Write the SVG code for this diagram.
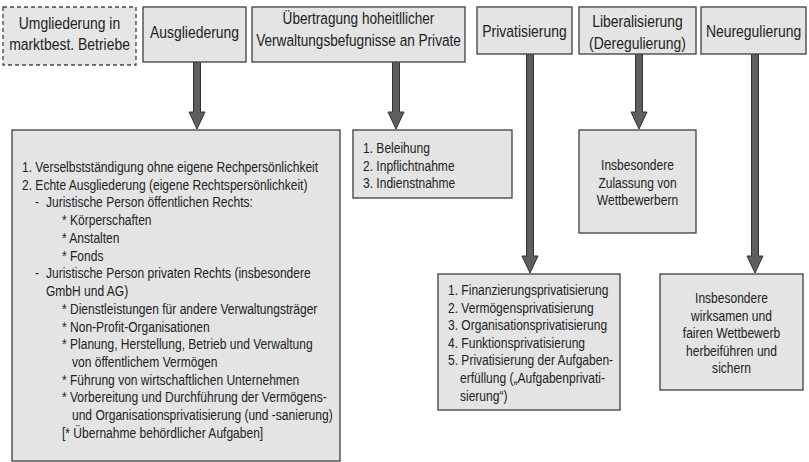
<svg xmlns="http://www.w3.org/2000/svg" width="809" height="462" viewBox="0 0 809 462">
<defs>
<style>
.bg{fill:#ffffff}
.box{fill:#e4e4e4;stroke:#4a4a4a;stroke-width:1.4}
.dash{fill:#e6e6e6;stroke:#4a4a4a;stroke-width:1.4;stroke-dasharray:4 3}
.h{font-family:"Liberation Sans",Arial,sans-serif;font-size:17px;fill:#222;text-anchor:middle}
.t{font-family:"Liberation Sans",Arial,sans-serif;font-size:14.5px;fill:#222}
.c{text-anchor:middle}
.arr{fill:#5e5e5e;stroke:#333;stroke-width:1}
</style>
</defs>
<rect class="bg" x="0" y="0" width="809" height="462"/>

<g id="connectors">
<path class="arr" d="M193.5 62 V112 H189 L197 129 L205 112 H200.5 V62 Z"/>
<path class="arr" d="M392.5 62 V112 H388 L396 129 L404 112 H399.5 V62 Z"/>
<path class="arr" d="M526.5 54 V256 H522 L530 273 L538 256 H533.5 V54 Z"/>
<path class="arr" d="M635.5 54 V112 H631 L639 129 L647 112 H642.5 V54 Z"/>
<path class="arr" d="M751.5 54 V256 H747 L755 273 L763 256 H758.5 V54 Z"/>
</g>

<g id="umgliederung">
<rect class="dash" x="3" y="7" width="133" height="58"/>
<g transform="translate(69.5 0) scale(0.82 1)">
<text class="h" x="0" y="29">Umgliederung in</text>
<text class="h" x="0" y="50">marktbest. Betriebe</text>
</g>
</g>

<g id="ausgliederung">
<rect class="box" x="143" y="7" width="103" height="55"/>
<g transform="translate(194.5 0) scale(0.82 1)">
<text class="h" x="0" y="38">Ausgliederung</text>
</g>
</g>

<g id="uebertragung">
<rect class="box" x="252" y="7" width="213" height="55"/>
<g transform="translate(358.5 0) scale(0.8 1)">
<text class="h" x="0" y="24">Übertragung hoheitllicher</text>
<text class="h" x="0" y="46">Verwaltungsbefugnisse an Private</text>
</g>
</g>

<g id="privatisierung">
<rect class="box" x="477" y="7" width="95" height="47"/>
<g transform="translate(524.5 0) scale(0.82 1)">
<text class="h" x="0" y="37">Privatisierung</text>
</g>
</g>

<g id="liberalisierung">
<rect class="box" x="579" y="7" width="117" height="47"/>
<g transform="translate(637.5 0) scale(0.82 1)">
<text class="h" x="0" y="27">Liberalisierung</text>
<text class="h" x="0" y="49">(Deregulierung)</text>
</g>
</g>

<g id="neuregulierung">
<rect class="box" x="701" y="7" width="105" height="47"/>
<g transform="translate(753.5 0) scale(0.82 1)">
<text class="h" x="0" y="37">Neuregulierung</text>
</g>
</g>

<g id="ausgliederung-detail">
<rect class="box" x="12" y="130" width="328" height="331"/>
<g transform="translate(22 0) scale(0.83 1)">
<text class="t" x="0" y="172">1. Verselbstständigung ohne eigene Rechpersönlichkeit</text>
<text class="t" x="0" y="189.7">2. Echte Ausgliederung (eigene Rechtspersönlichkeit)</text>
<text class="t" x="15.66" y="207.5">-</text>
<text class="t" x="28.92" y="207.5">Juristische Person öffentlichen Rechts:</text>
<text class="t" x="48.19" y="225.2">* Körperschaften</text>
<text class="t" x="48.19" y="242.9">* Anstalten</text>
<text class="t" x="48.19" y="260.7">* Fonds</text>
<text class="t" x="15.66" y="278.4">-</text>
<text class="t" x="28.92" y="278.4">Juristische Person privaten Rechts (insbesondere</text>
<text class="t" x="28.92" y="296.1">GmbH und AG)</text>
<text class="t" x="48.19" y="313.8">* Dienstleistungen für andere Verwaltungsträger</text>
<text class="t" x="48.19" y="331.6">* Non-Profit-Organisationen</text>
<text class="t" x="48.19" y="349.3">* Planung, Herstellung, Betrieb und Verwaltung</text>
<text class="t" x="60.24" y="367">von öffentlichem Vermögen</text>
<text class="t" x="48.19" y="384.8">* Führung von wirtschaftlichen Unternehmen</text>
<text class="t" x="48.19" y="402.5">* Vorbereitung und Durchführung der Vermögens-</text>
<text class="t" x="60.24" y="420.2">und Organisationsprivatisierung (und -sanierung)</text>
<text class="t" x="48.19" y="438">[* Übernahme behördlicher Aufgaben]</text>
</g>
</g>

<g id="uebertragung-detail">
<rect class="box" x="353" y="130" width="159" height="68"/>
<g transform="translate(363 0) scale(0.83 1)">
<text class="t" x="0" y="153">1. Beleihung</text>
<text class="t" x="0" y="171">2. Inpflichtnahme</text>
<text class="t" x="0" y="188.5">3. Indienstnahme</text>
</g>
</g>

<g id="liberalisierung-detail">
<rect class="box" x="579" y="130" width="117" height="103"/>
<g transform="translate(637.5 0) scale(0.83 1)">
<text class="t c" x="0" y="170">Insbesondere</text>
<text class="t c" x="0" y="188">Zulassung von</text>
<text class="t c" x="0" y="205.5">Wettbewerbern</text>
</g>
</g>

<g id="privatisierung-detail">
<rect class="box" x="438" y="274" width="182" height="136"/>
<g transform="translate(448 0) scale(0.83 1)">
<text class="t" x="0" y="295">1. Finanzierungsprivatisierung</text>
<text class="t" x="0" y="312.6">2. Vermögensprivatisierung</text>
<text class="t" x="0" y="330.2">3. Organisationsprivatisierung</text>
<text class="t" x="0" y="347.8">4. Funktionsprivatisierung</text>
<text class="t" x="0" y="365.4">5. Privatisierung der Aufgaben-</text>
<text class="t" x="14.46" y="383">erfüllung („Aufgabenprivati-</text>
<text class="t" x="14.46" y="400.6">sierung“)</text>
</g>
</g>

<g id="neuregulierung-detail">
<rect class="box" x="660" y="274" width="143" height="116"/>
<g transform="translate(731.5 0) scale(0.83 1)">
<text class="t c" x="0" y="303">Insbesondere</text>
<text class="t c" x="0" y="320.6">wirksamen und</text>
<text class="t c" x="0" y="338.2">fairen Wettbewerb</text>
<text class="t c" x="0" y="355.8">herbeiführen und</text>
<text class="t c" x="0" y="373.4">sichern</text>
</g>
</g>
</svg>
